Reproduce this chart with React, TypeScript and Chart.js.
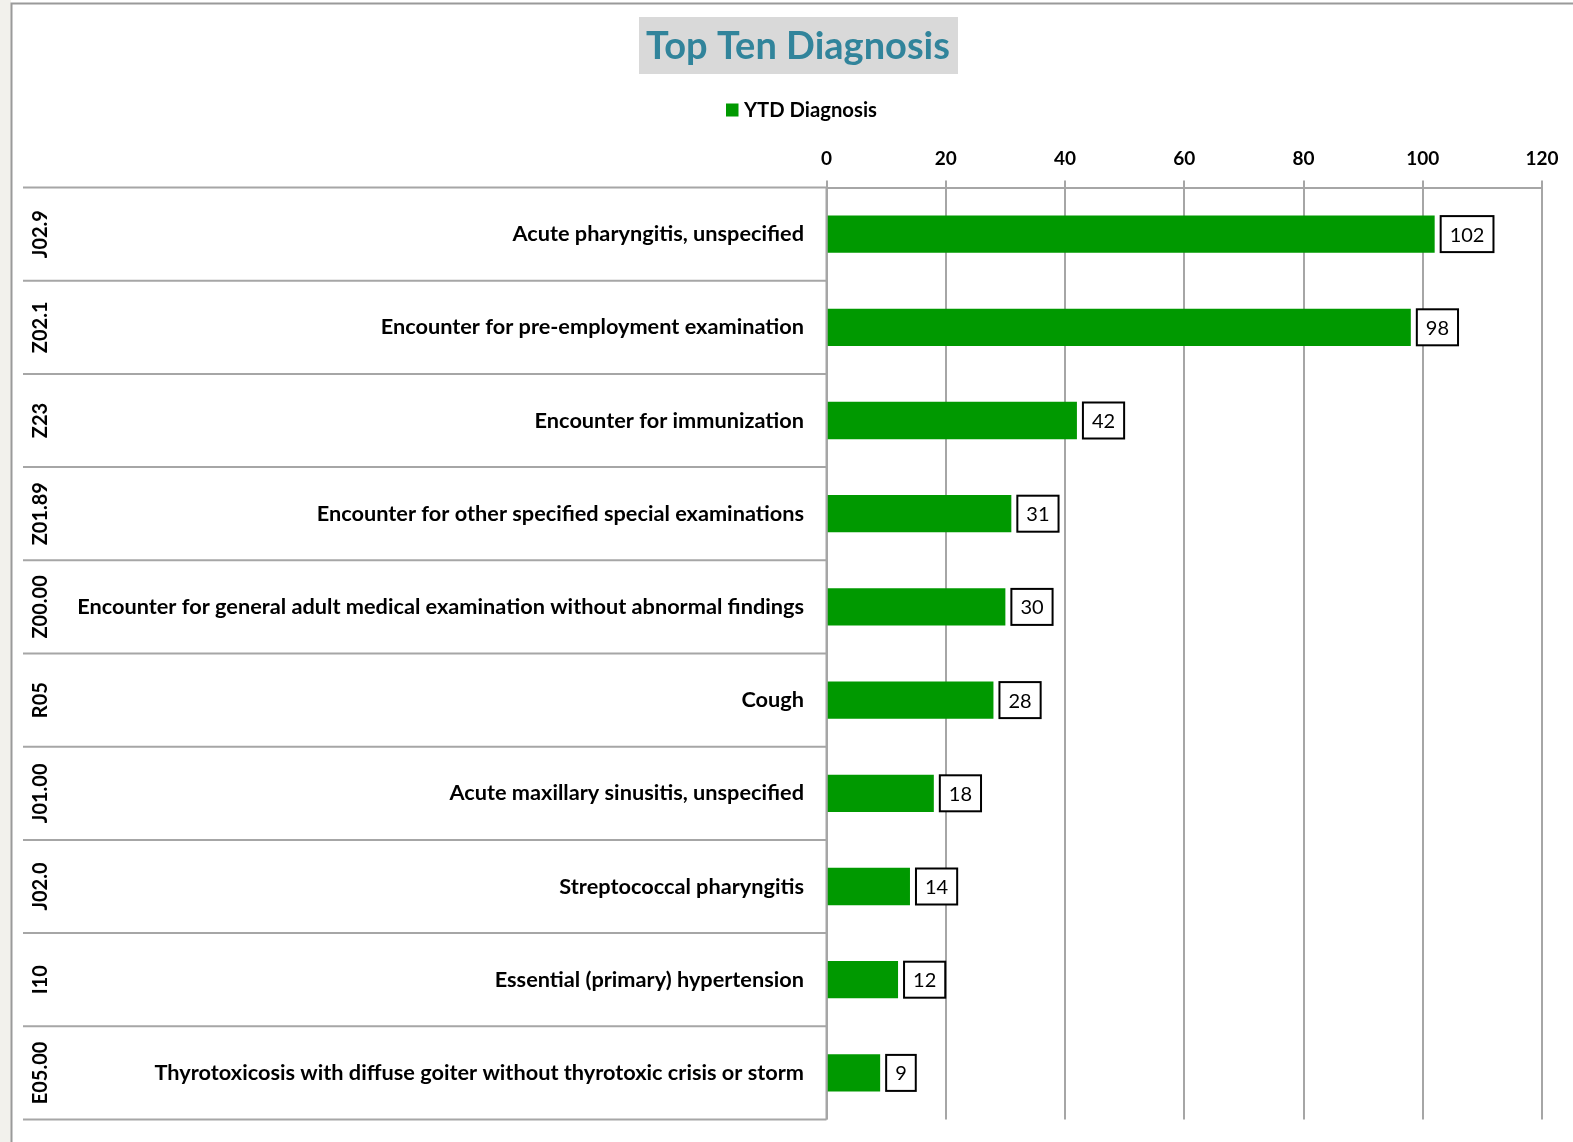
import React, { useEffect, useRef } from "react";
import { Chart, registerables } from "chart.js";

Chart.register(...registerables);

const codes = ["J02.9", "Z02.1", "Z23", "Z01.89", "Z00.00", "R05", "J01.00", "J02.0", "I10", "E05.00"];
const descriptions = [
  "Acute pharyngitis, unspecified",
  "Encounter for pre-employment examination",
  "Encounter for immunization",
  "Encounter for other specified special examinations",
  "Encounter for general adult medical examination without abnormal findings",
  "Cough",
  "Acute maxillary sinusitis, unspecified",
  "Streptococcal pharyngitis",
  "Essential (primary) hypertension",
  "Thyrotoxicosis with diffuse goiter without thyrotoxic crisis or storm",
];
const values = [102, 98, 42, 31, 30, 28, 18, 14, 12, 9];
const seriesName = "YTD Diagnosis";
const chartTitle = "Top Ten Diagnosis";

const W = 1573;
const H = 1142;
const FONT = "Lato, 'Open Sans', sans-serif";
const GRID = "#a6a6a6";
const GREEN = "#009900";

function fitSize(text: string, target: number, weight: string, base: number) {
  const c = document.createElement("canvas").getContext("2d")!;
  c.font = `${weight} ${base}px ${FONT}`;
  const w = c.measureText(text).width;
  return Math.max(12, Math.min(60, (base * target) / w));
}

export default function App() {
  const ref = useRef<HTMLCanvasElement>(null);
  useEffect(() => {
    const labelSize = fitSize(descriptions[4], 727, "bold", 20);
    const titleSize = fitSize(chartTitle, 304, "bold", 36);
    const legendSize = fitSize(seriesName, 133, "bold", 19);

    const deco = {
      id: "deco",
      beforeDraw(chart: any) {
        const ctx = chart.ctx;
        ctx.save();
        ctx.fillStyle = "#ffffff";
        ctx.fillRect(0, 0, W, H);
        ctx.fillStyle = "#f2f1ec";
        ctx.fillRect(0, 0, 11, H);
        ctx.strokeStyle = "#9a9a9a";
        ctx.lineWidth = 2;
        ctx.beginPath();
        ctx.moveTo(11.5, H);
        ctx.lineTo(11.5, 3.5);
        ctx.lineTo(W, 3.5);
        ctx.stroke();
        // title
        ctx.fillStyle = "#d9d9d9";
        ctx.fillRect(639, 17, 319, 57);
        ctx.fillStyle = "#31849b";
        ctx.font = `bold ${titleSize}px ${FONT}`;
        ctx.textAlign = "center";
        ctx.textBaseline = "middle";
        ctx.fillText(chartTitle, 798, 47);
        // legend
        ctx.font = `bold ${legendSize}px ${FONT}`;
        ctx.fillStyle = GREEN;
        ctx.fillRect(726, 103.5, 12.5, 13);
        ctx.fillStyle = "#000000";
        ctx.textAlign = "left";
        ctx.fillText(seriesName, 744, 110);
        ctx.restore();
      },
      afterDatasetsDraw(chart: any) {
        const ctx = chart.ctx;
        const y = chart.scales.y;
        const area = chart.chartArea;
        ctx.save();
        ctx.strokeStyle = GRID;
        ctx.lineWidth = 2;
        const n = codes.length;
        const bounds: number[] = [area.top];
        for (let i = 0; i < n - 1; i++) {
          bounds.push((y.getPixelForValue(i) + y.getPixelForValue(i + 1)) / 2);
        }
        bounds.push(area.bottom);
        ctx.beginPath();
        bounds.forEach((b) => {
          ctx.moveTo(23, b);
          ctx.lineTo(area.left, b);
        });
        ctx.moveTo(area.left, area.top);
        ctx.lineTo(area.left, area.bottom);
        ctx.stroke();
        // codes
        ctx.fillStyle = "#000000";
        ctx.font = `bold 20px ${FONT}`;
        ctx.textAlign = "center";
        ctx.textBaseline = "middle";
        codes.forEach((c, i) => {
          const cy = y.getPixelForValue(i);
          ctx.save();
          ctx.translate(41, cy);
          ctx.rotate(-Math.PI / 2);
          ctx.fillText(c, 0, 0);
          ctx.restore();
        });
        // value boxes
        ctx.font = `20px ${FONT}`;
        const meta = chart.getDatasetMeta(0);
        meta.data.forEach((bar: any, i: number) => {
          const txt = String(values[i]);
          const tw = ctx.measureText(txt).width;
          const bw = tw + 18;
          const bh = 36;
          const bx = bar.x + 6;
          const by = bar.y - bh / 2;
          ctx.fillStyle = "#ffffff";
          ctx.fillRect(bx, by, bw, bh);
          ctx.strokeStyle = "#000000";
          ctx.lineWidth = 2;
          ctx.strokeRect(bx, by, bw, bh);
          ctx.fillStyle = "#000000";
          ctx.fillText(txt, bx + bw / 2, bar.y + 1);
        });
        ctx.restore();
      },
    };

    const chart = new Chart(ref.current!, {
      type: "bar",
      data: {
        labels: descriptions,
        datasets: [
          {
            label: seriesName,
            data: values,
            backgroundColor: GREEN,
            borderWidth: 0,
            barPercentage: 0.4,
            categoryPercentage: 1,
          },
        ],
      },
      options: {
        indexAxis: "y",
        responsive: false,
        animation: false,
        devicePixelRatio: 1,
        layout: { padding: { top: 147.5, right: 31, bottom: 22.5, left: 0 } },
        plugins: {
          legend: { display: false },
          title: { display: false },
          tooltip: { enabled: false },
        },
        scales: {
          x: {
            position: "top",
            min: 0,
            max: 120,
            ticks: {
              stepSize: 20,
              color: "#000000",
              font: { family: FONT, weight: "bold", size: 19 },
              padding: 10,
            },
            grid: { color: GRID, lineWidth: 2, tickLength: 7 },
            border: { display: true, color: GRID, width: 2 },
            afterFit(scale: any) {
              scale.height = 40;
              scale.paddingLeft = 0;
              scale.paddingRight = 0;
            },
          },
          y: {
            type: "category",
            ticks: {
              color: "#000000",
              font: { family: FONT, weight: "bold", size: labelSize },
              padding: 22.5,
              autoSkip: false,
            },
            grid: { display: false, drawTicks: false },
            border: { display: false },
            afterFit(scale: any) {
              scale.width = 826.5;
              scale.paddingTop = 0;
              scale.paddingBottom = 0;
            },
          },
        },
      } as any,
      plugins: [deco],
    });
    return () => chart.destroy();
  }, []);

  return (
    <div style={{ position: "absolute", left: 0, top: 0, width: W, height: H, overflow: "hidden" }}>
      <canvas ref={ref} width={W} height={H} style={{ width: W, height: H, display: "block" }} />
    </div>
  );
}
